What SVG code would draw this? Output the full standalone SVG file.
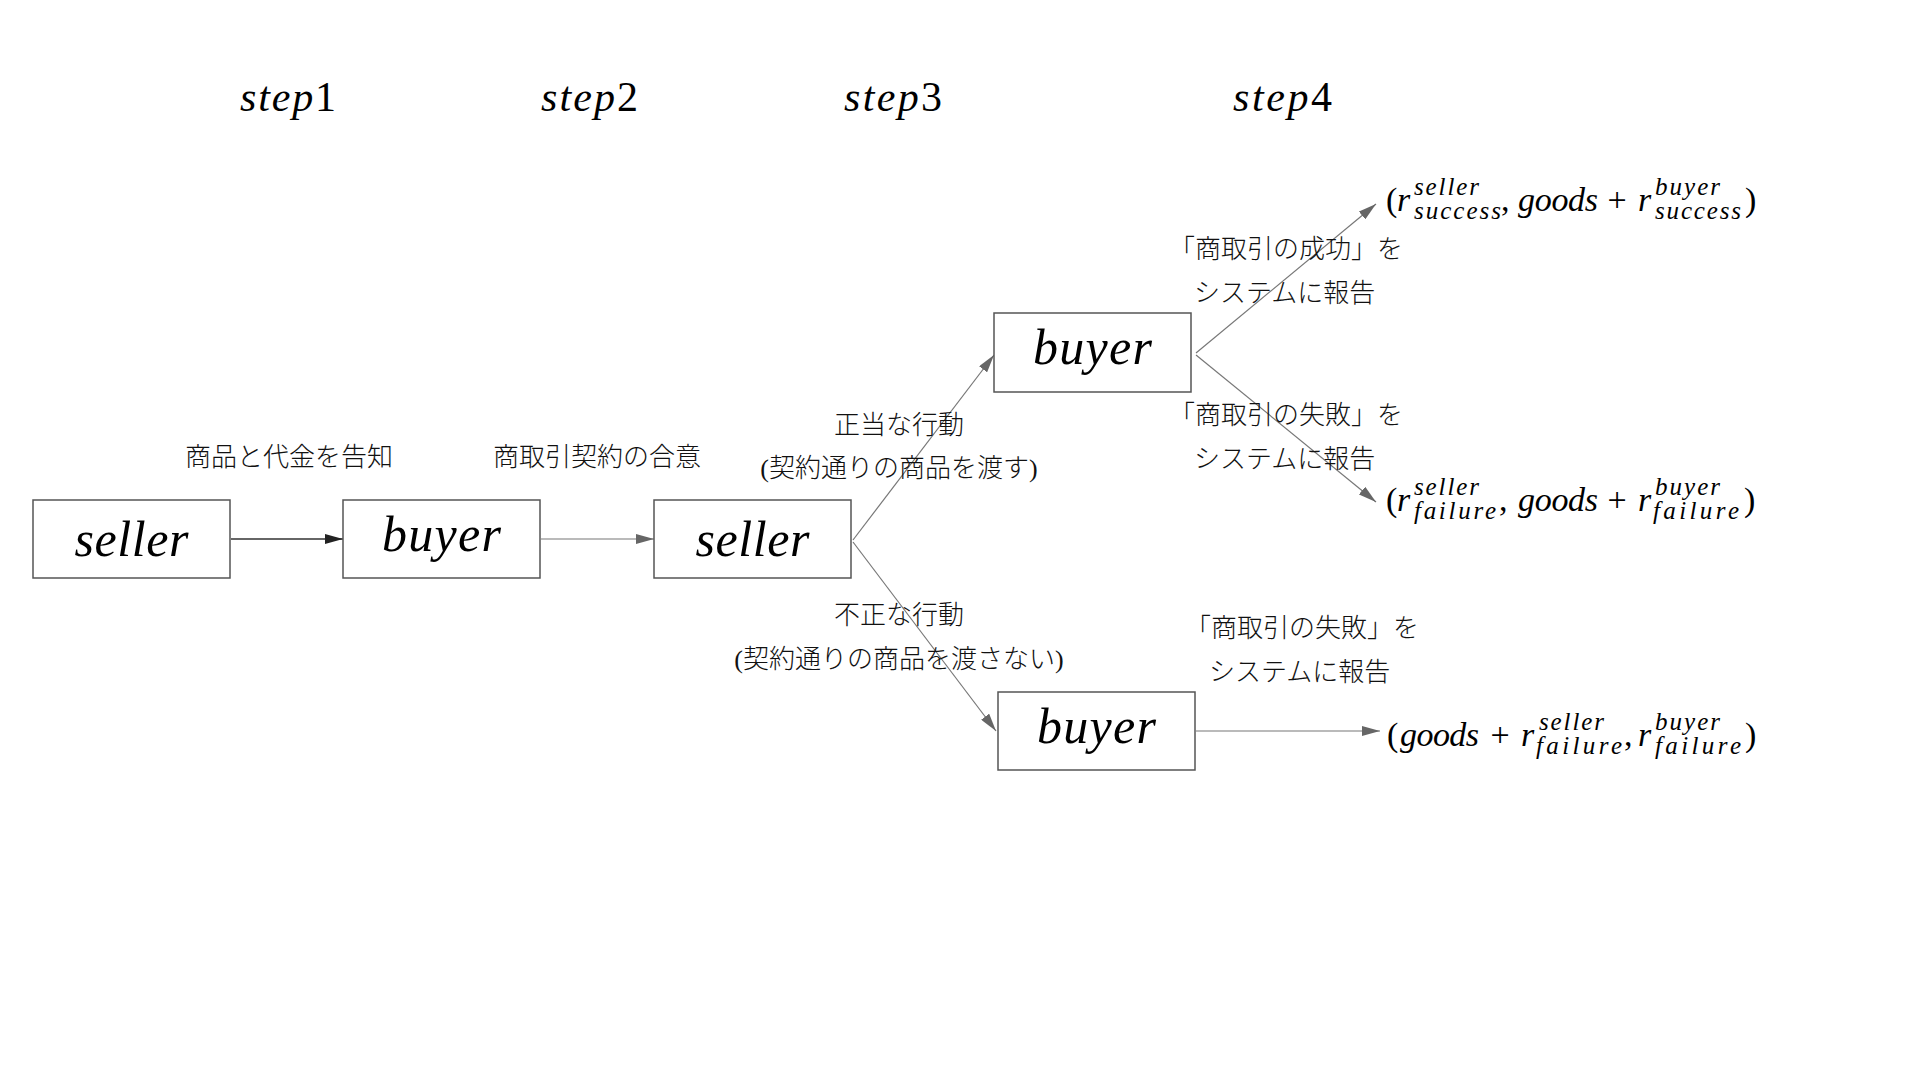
<svg xmlns="http://www.w3.org/2000/svg" width="1920" height="1080" viewBox="0 0 1920 1080">
<style>
.bg{fill:#ffffff}
.box{fill:#ffffff;stroke:#555555;stroke-width:1.5}
.node{font-family:"Liberation Serif",serif;font-style:italic;font-size:50px;fill:#000;text-anchor:middle}
.step{font-family:"Liberation Serif",serif;font-style:italic;font-size:42px;fill:#000}
.up{font-style:normal}
.jp{font-family:"Liberation Serif","Noto Sans CJK JP",sans-serif;font-size:26px;font-weight:300;fill:#111}
.mid{text-anchor:middle}
.m{font-family:"Liberation Serif",serif;font-style:italic;font-size:34px;fill:#000}
.mr{font-family:"Liberation Serif",serif;font-style:normal;font-size:34px;fill:#000}
.s{font-family:"Liberation Serif",serif;font-style:italic;font-size:25px;fill:#000}
.conn{stroke:#777777;stroke-width:1.2;fill:none;marker-end:url(#ah)}
.dark{stroke:#333333;stroke-width:1.5;marker-end:url(#ahd)}
</style>
<defs>
<marker id="ah" viewBox="0 0 18 10" refX="18" refY="5" markerWidth="18" markerHeight="10" markerUnits="userSpaceOnUse" orient="auto"><path d="M0,0 L18,5 L0,10 z" fill="#666666"/></marker>
<marker id="ahd" viewBox="0 0 18 10" refX="18" refY="5" markerWidth="18" markerHeight="10" markerUnits="userSpaceOnUse" orient="auto"><path d="M0,0 L18,5 L0,10 z" fill="#222222"/></marker>
</defs>
<rect class="bg" x="0" y="0" width="1920" height="1080"/>

<g id="steps">
<text class="step" x="240" y="111" textLength="96">step<tspan class="up">1</tspan></text>
<text class="step" x="541" y="111" textLength="97">step<tspan class="up">2</tspan></text>
<text class="step" x="844" y="111" textLength="98">step<tspan class="up">3</tspan></text>
<text class="step" x="1233" y="111" textLength="99">step<tspan class="up">4</tspan></text>
</g>

<g id="connectors">
<line id="c1" class="conn dark" x1="231" y1="539" x2="343" y2="539"/>
<line id="c2" class="conn" x1="541" y1="539" x2="654" y2="539"/>
<line id="c3" class="conn" x1="853" y1="540" x2="994" y2="355"/>
<line id="c4" class="conn" x1="853" y1="542" x2="996" y2="731"/>
<line id="c5" class="conn" x1="1196" y1="353" x2="1376" y2="204"/>
<line id="c6" class="conn" x1="1196" y1="355" x2="1376" y2="502"/>
<line id="c7" class="conn" x1="1196" y1="731" x2="1380" y2="731"/>
</g>

<g id="edge-labels">
<text class="jp" x="185" y="466">商品と代金を告知</text>
<text class="jp" x="493" y="466">商取引契約の合意</text>
<text class="jp mid" x="899" y="434">正当な行動</text>
<text class="jp mid" x="899" y="477">(契約通りの商品を渡す)</text>
<text class="jp mid" x="899" y="624">不正な行動</text>
<text class="jp mid" x="899" y="668">(契約通りの商品を渡さない)</text>
<text class="jp" x="1169" y="258">「商取引の成功」を</text>
<text class="jp" x="1194" y="302">システムに報告</text>
<text class="jp" x="1169" y="424">「商取引の失敗」を</text>
<text class="jp" x="1194" y="468">システムに報告</text>
<text class="jp" x="1185" y="637">「商取引の失敗」を</text>
<text class="jp" x="1209" y="681">システムに報告</text>
</g>

<g id="n-seller1">
<rect class="box" x="33" y="500" width="197" height="78"/>
<text class="node" x="131.5" y="556" textLength="114">seller</text>
</g>
<g id="n-buyer1">
<rect class="box" x="343" y="500" width="197" height="78"/>
<text class="node" x="441.5" y="551" textLength="119">buyer</text>
</g>
<g id="n-seller2">
<rect class="box" x="654" y="500" width="197" height="78"/>
<text class="node" x="752.5" y="556" textLength="114">seller</text>
</g>
<g id="n-buyer-top">
<rect class="box" x="994" y="313" width="197" height="79"/>
<text class="node" x="1092.5" y="364" textLength="119">buyer</text>
</g>
<g id="n-buyer-bottom">
<rect class="box" x="998" y="692" width="197" height="78"/>
<text class="node" x="1096.5" y="743" textLength="119">buyer</text>
</g>

<g id="outcome-success">
<text class="mr" x="1386" y="211">(</text>
<text class="m" x="1397" y="211">r</text>
<text class="s" x="1414" y="195" textLength="65">seller</text>
<text class="s" x="1414" y="219" textLength="87">success</text>
<text class="mr" x="1501" y="211">,</text>
<text class="m" x="1518" y="211" textLength="80">goods</text>
<text class="mr mid" x="1617" y="211">+</text>
<text class="m" x="1638" y="211">r</text>
<text class="s" x="1655" y="195" textLength="65">buyer</text>
<text class="s" x="1655" y="219" textLength="86">success</text>
<text class="mr" x="1745" y="211">)</text>
</g>

<g id="outcome-failure-reported">
<text class="mr" x="1386" y="511">(</text>
<text class="m" x="1397" y="511">r</text>
<text class="s" x="1414" y="495" textLength="65">seller</text>
<text class="s" x="1414" y="519" textLength="82">failure</text>
<text class="mr" x="1499" y="511">,</text>
<text class="m" x="1518" y="511" textLength="80">goods</text>
<text class="mr mid" x="1617" y="511">+</text>
<text class="m" x="1638" y="511">r</text>
<text class="s" x="1655" y="495" textLength="65">buyer</text>
<text class="s" x="1653" y="519" textLength="86">failure</text>
<text class="mr" x="1744" y="511">)</text>
</g>

<g id="outcome-fraud">
<text class="mr" x="1387" y="746">(</text>
<text class="m" x="1400" y="746" textLength="79">goods</text>
<text class="mr mid" x="1500" y="746">+</text>
<text class="m" x="1521" y="746">r</text>
<text class="s" x="1539" y="730" textLength="65">seller</text>
<text class="s" x="1536" y="754" textLength="86">failure</text>
<text class="mr" x="1624" y="746">,</text>
<text class="m" x="1638" y="746">r</text>
<text class="s" x="1655" y="730" textLength="65">buyer</text>
<text class="s" x="1655" y="754" textLength="86">failure</text>
<text class="mr" x="1745" y="746">)</text>
</g>
</svg>
